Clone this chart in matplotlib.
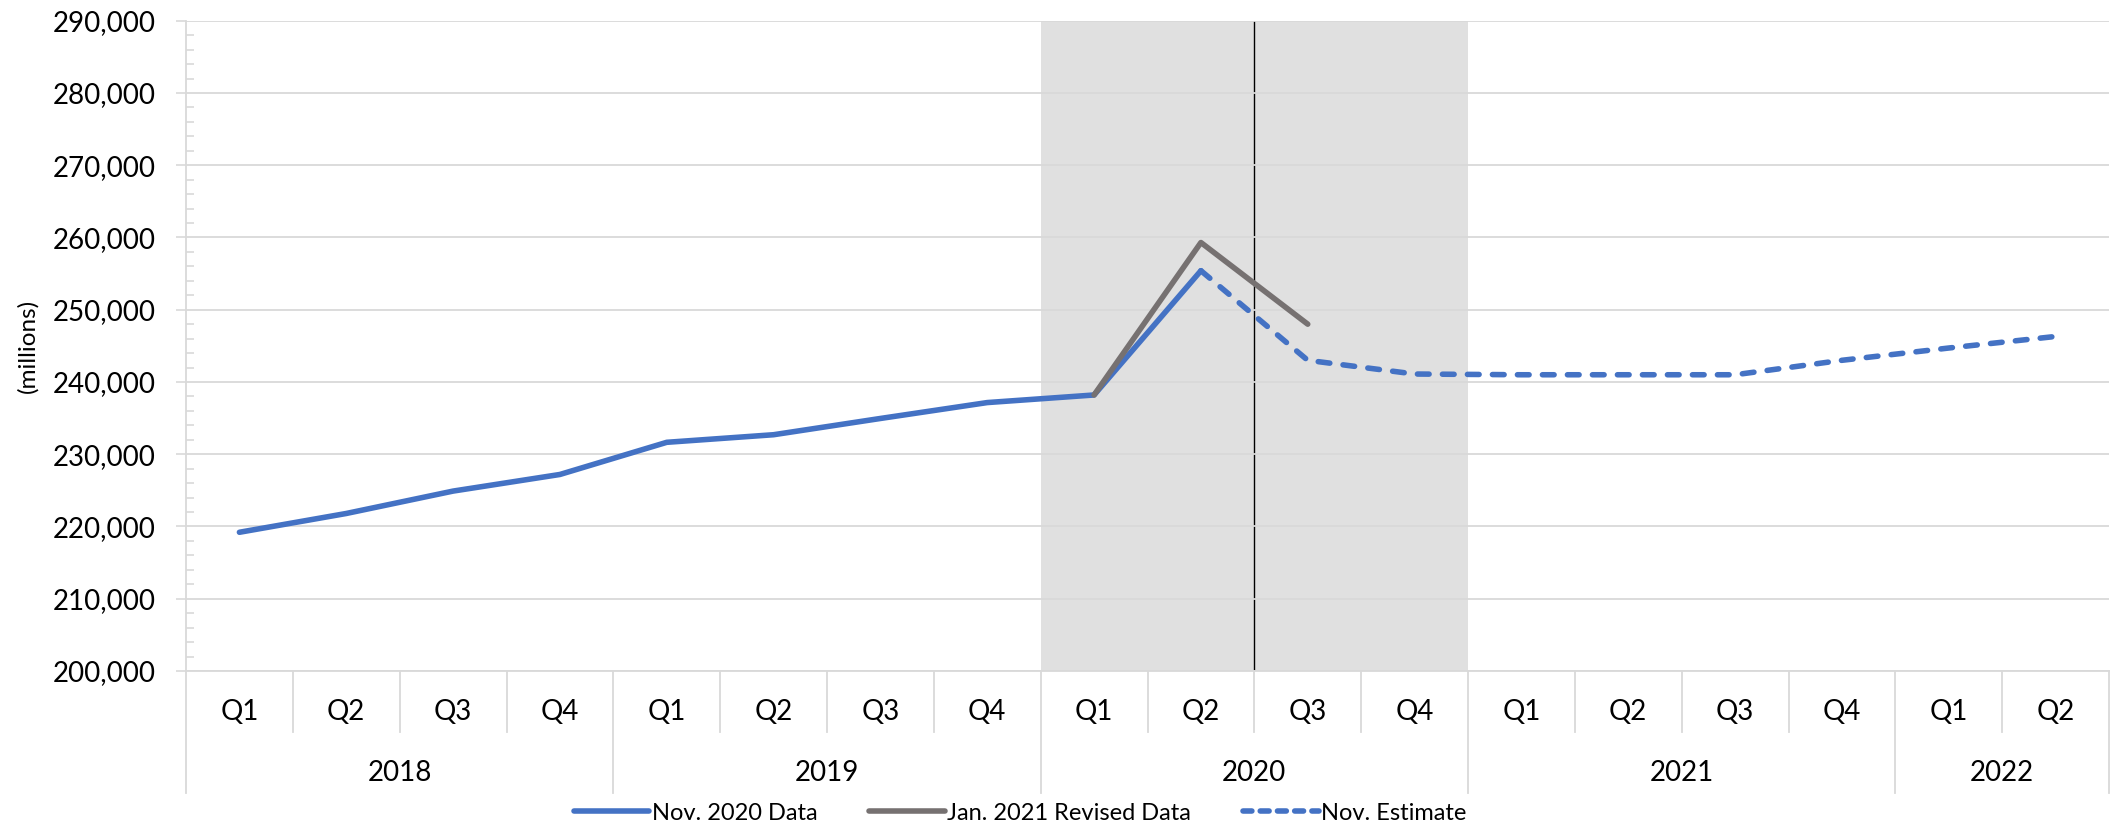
import matplotlib
matplotlib.use("Agg")
import matplotlib.pyplot as plt
import matplotlib.transforms as mtransforms
from matplotlib.lines import Line2D
from matplotlib.ticker import MultipleLocator, FuncFormatter

# Data (millions)
quarters = ["Q1", "Q2", "Q3", "Q4"] * 4 + ["Q1", "Q2"]
years = ["2018", "2019", "2020", "2021", "2022"]
year_counts = [4, 4, 4, 4, 2]

nov_2020_data = [219200, 221800, 224900, 227200, 231650, 232700, 234950, 237150, 238200, 255400]
jan_2021_revised = [238200, 259300, 248000]          # 2020 Q1..Q3
nov_estimate = [255400, 243000, 241100, 241000, 241000, 241000, 243000, 244700, 246300]  # 2020 Q2..2022 Q2

nov_start = 0
revised_start = 8
estimate_start = 9

shade_from, shade_to = 8, 12      # 2020 shaded
vline_at = 10                     # between 2020 Q2 and Q3

BLUE = "#4472C4"
GRAY = "#767171"
GRID = "#D9D9D9"
SHADE = "#E0E0E0"
LW = 4.0

plt.rcParams["font.family"] = ["Lato", "DejaVu Sans"]

fig = plt.figure(figsize=(21.18, 8.26), dpi=100)
ax = fig.add_axes([186 / 2118, 1 - 671 / 826, (2109 - 186) / 2118, (671 - 20.7) / 826])

n = len(quarters)
ax.set_xlim(0, n)
ax.set_ylim(200000, 290000)

# shaded 2020 band and marker line
ax.axvspan(shade_from, shade_to, color=SHADE, zorder=0, lw=0)
ax.axvline(vline_at, color="black", lw=1.0, zorder=1)

# gridlines
ax.yaxis.set_major_locator(MultipleLocator(10000))
ax.yaxis.set_minor_locator(MultipleLocator(2000))
ax.grid(axis="y", which="major", color=GRID, lw=1.3, zorder=0.5)
ax.set_axisbelow(False)

xs_nov = [nov_start + i + 0.5 for i in range(len(nov_2020_data))]
xs_rev = [revised_start + i + 0.5 for i in range(len(jan_2021_revised))]
xs_est = [estimate_start + i + 0.5 for i in range(len(nov_estimate))]

ax.plot(xs_nov, nov_2020_data, color=BLUE, lw=LW, solid_capstyle="round",
        solid_joinstyle="round", zorder=3)
ax.plot(xs_rev, jan_2021_revised, color=GRAY, lw=LW, solid_capstyle="round",
        solid_joinstyle="round", zorder=4)
ax.plot(xs_est, nov_estimate, color=BLUE, lw=LW, linestyle=(0, (2.1, 2.4)),
        dash_capstyle="round", zorder=3)

# y axis styling
ax.yaxis.set_major_formatter(FuncFormatter(lambda v, p: f"{int(v):,}"))
ax.tick_params(axis="y", which="major", direction="out", length=7, width=1.2,
               color=GRID, labelsize=20, pad=15)
ax.tick_params(axis="y", which="minor", direction="in", length=5.5, width=1.2, color=GRID)
ax.set_xticks([])
for side in ["top", "right"]:
    ax.spines[side].set_visible(False)
for side in ["left", "bottom"]:
    ax.spines[side].set_color(GRID)
    ax.spines[side].set_linewidth(1.3)

# multi-level category axis
trans = mtransforms.blended_transform_factory(ax.transData, ax.transAxes)
q_sep = -0.0938
y_sep = -0.1877
year_edges = [0]
for c in year_counts:
    year_edges.append(year_edges[-1] + c)
for i in range(1, n):
    if i not in year_edges:
        ax.plot([i, i], [0, q_sep], transform=trans, color=GRID, lw=1.3, clip_on=False)
for e in year_edges:
    ax.plot([e, e], [0, y_sep], transform=trans, color=GRID, lw=1.3, clip_on=False)
for i, q in enumerate(quarters):
    ax.text(i + 0.5, -0.063, q, transform=trans, ha="center", va="center", fontsize=20)
for k, yr in enumerate(years):
    mid = (year_edges[k] + year_edges[k + 1]) / 2
    ax.text(mid, -0.157, yr, transform=trans, ha="center", va="center", fontsize=20)

fig.text(28 / 2118, 1 - 346 / 826, "(millions)", rotation=90, ha="center", va="center",
         fontsize=17.5)

handles = [
    Line2D([], [], color=BLUE, lw=LW, solid_capstyle="round"),
    Line2D([], [], color=GRAY, lw=LW, solid_capstyle="round"),
    Line2D([], [], color=BLUE, lw=LW, linestyle=(0, (1.6, 1.5)), dash_capstyle="round"),
]
labels = ["Nov. 2020 Data", "Jan. 2021 Revised Data", "Nov. Estimate"]
fig.legend(handles, labels, loc="center", bbox_to_anchor=(1020 / 2118, 1 - 813 / 826),
           ncol=3, frameon=False, fontsize=17, handlelength=3.2, handletextpad=0.1,
           columnspacing=2.2)

fig.savefig("out.png", dpi=100)
